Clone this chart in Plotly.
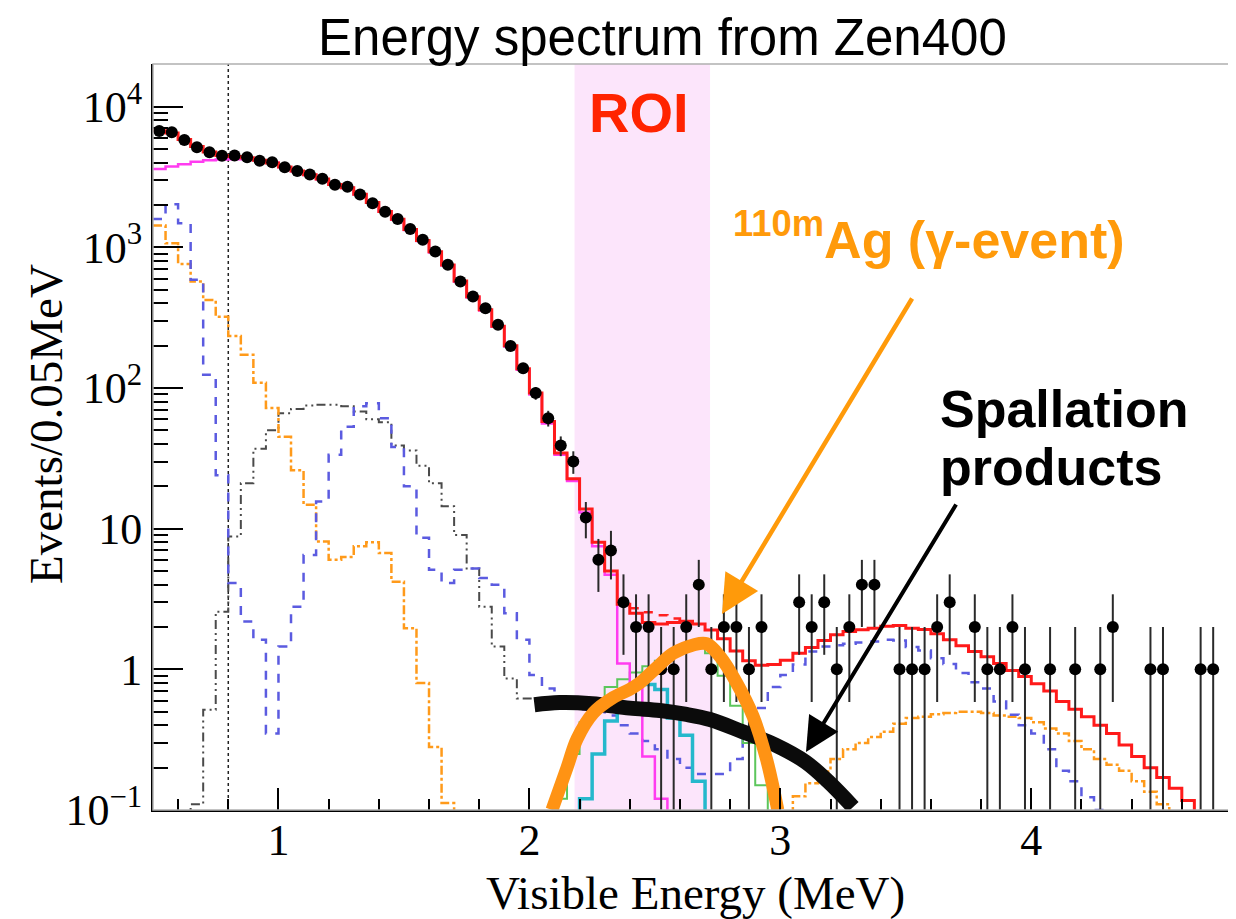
import numpy as np
import plotly.graph_objects as go

BIN = 0.05
# ---------------- data ----------------
data_start = 0.5           # left edge of first data bin
data_counts = [6710, 6580, 5790, 5140, 4740, 4470, 4490, 4370, 4130, 4030,
               3710, 3490, 3290, 3070, 2780, 2690, 2370, 2060, 1790, 1590,
               1350, 1130, 933, 751, 571, 447, 369, 281, 199, 138,
               92, 61, 39, 30, 12, 6, 7, 3, 2, 2,
               1, 1, 2, 4, 1, 2, 2, 1, 2, 0,
               0, 3, 2, 3, 1, 2, 4, 4, 0, 1,
               1, 1, 2, 3, 0, 2, 1, 1, 2, 1,
               0, 1, 0, 1, 0, 1, 2, 0, 0, 1,
               1, 0, 0, 1, 1, 0]

total_start = 0.5
total_fit = [6750, 6500, 5850, 5200, 4750, 4500, 4420, 4330, 4150, 3980,
             3720, 3480, 3280, 3060, 2800, 2650, 2380, 2080, 1800, 1580,
             1340, 1120, 930, 750, 575, 445, 360, 275, 200, 137,
             92, 57.7, 34.5, 22.6, 13.8, 8.0, 5.0, 2.9, 2.5, 2.15,
             2.1, 2.15, 2.2, 2.1, 1.9, 1.65, 1.35, 1.15, 1.07, 1.08,
             1.16, 1.3, 1.43, 1.6, 1.76, 1.86, 1.91, 1.96, 2.02, 2.05,
             1.96, 1.92, 1.79, 1.62, 1.47, 1.34, 1.23, 1.10, 0.98, 0.89,
             0.79, 0.70, 0.59, 0.52, 0.46, 0.40, 0.35, 0.29, 0.24, 0.20,
             0.17, 0.143, 0.117, 0.09, 0.07, 0.05]

alt_total_start = 2.40
alt_total = [2.72, 2.55, 2.42, 2.3, 2.2]

xe2nu_start = 0.5
xe2nu = [3600, 3750, 3900, 4050, 4150, 4200, 4230, 4230, 4150, 4000,
         3700, 3470, 3270, 3050, 2790, 2640, 2370, 2070, 1790, 1570,
         1330, 1110, 920, 742, 568, 440, 355, 272, 197, 135,
         90, 56, 33.5, 21.8, 13.0, 7.5, 4.7, 1.1, 0.8, 0.24,
         0.12, 0]

blue_start = 0.5
blue_bkg = [1590, 2020, 1480, 587, 124, 24, 4.1, 2.19, 1.62, 0.35,
            1.45, 2.79, 6.5, 15.6, 33.5, 53, 74, 78, 61, 38,
            20, 8.6, 5.1, 4.1, 5.1, 5.2, 4.45, 4.0, 2.5, 1.62,
            0.91, 0.73, 0.63, 0.58, 0.52, 0.50, 0.47, 0.40, 0.35, 0.31,
            0.27, 0.23, 0.20, 0.18, 0.18, 0.18, 0.23, 0.32, 0.53, 0.75,
            0.91, 1.08, 1.34, 1.45, 1.48, 1.52, 1.55, 1.58, 1.62, 1.60,
            1.44, 1.36, 1.2, 1.09, 0.94, 0.81, 0.73, 0.59, 0.475, 0.40,
            0.35, 0.27, 0.19, 0.16, 0.123, 0.1, 0]

orange_low_start = 0.5
orange_low = [1430, 1070, 762, 571, 422, 321, 234, 172, 109, 72,
              45, 26, 14.8, 8.1, 6.0, 6.3, 7.5, 8.0, 6.7, 4.2,
              1.96, 0.80, 0.28, 0.112, 0]

orange_high_start = 3.00
orange_high = [0, 0.125, 0.155, 0.188, 0.23, 0.27, 0.30, 0.33, 0.36, 0.41,
               0.45, 0.46, 0.48, 0.49, 0.5, 0.5, 0.49, 0.47, 0.46, 0.45,
               0.42, 0.38, 0.35, 0.31, 0.27, 0.23, 0.21, 0.19, 0.16, 0.135,
               0.11, 0]

gray_start = 0.60
gray_bkg = [0, 0.11, 0.515, 2.57, 8.8, 21, 37, 50, 66, 71,
            75, 76, 76, 74, 68, 60, 57, 39, 36, 28,
            21, 14.4, 9.0, 5.2, 2.79, 1.45, 0.86, 0.62, 0.62]

cyan_start = 2.15
cyan_sig = [0, 0.12, 0.25, 0.43, 0.70, 0.78, 0.78, 0.72, 0.45, 0.34, 0.16, 0]

green_start = 2.05
green_ag = [0, 0.12, 0.25, 0.42, 0.6, 0.75, 0.85, 0.95, 1.05, 1.15,
            1.3, 1.45, 1.5, 1.3, 0.9, 0.55, 0.3, 0.15, 0]

# hand-drawn highlight curves
ag_x = [2.09, 2.15, 2.19, 2.255, 2.334, 2.40, 2.44, 2.507, 2.573, 2.653, 2.706, 2.76, 2.826, 2.892, 2.945, 2.99]
ag_y = [0.10, 0.20, 0.32, 0.49, 0.63, 0.72, 0.80, 1.03, 1.30, 1.49, 1.52, 1.23, 0.80, 0.46, 0.23, 0.10]
sp_x = [2.02, 2.12, 2.25, 2.40, 2.52, 2.62, 2.72, 2.85, 2.98, 3.10, 3.19, 3.29]
sp_y = [0.56, 0.58, 0.57, 0.53, 0.51, 0.48, 0.44, 0.36, 0.29, 0.22, 0.16, 0.105]

roi = [2.18, 2.72]
threshold = 0.8

y_tickvals = [0.1, 1, 10, 100, 1000, 10000]
y_ticktext = ["10<sup>\u22121</sup>", "1", "10", "10<sup>2</sup>", "10<sup>3</sup>", "10<sup>4</sup>"]
x_tickvals = [1, 2, 3, 4]

FLOOR = 1e-3

# ---------------- figure ----------------
fig = go.Figure()


def step(start, vals, color, width, dash="solid"):
    v = [x if x > 0 else FLOOR for x in vals]
    xs = start + BIN * np.arange(len(v) + 1)
    ys = v + [v[-1]]
    return go.Scatter(x=xs, y=ys, mode="lines",
                      line=dict(shape="hv", color=color, width=width, dash=dash),
                      hoverinfo="skip", showlegend=False)


GRAYDASH = "9px,4px,2px,4px,2px,4px"
fig.add_trace(step(gray_start, gray_bkg, "#4a4a4a", 2, GRAYDASH))
fig.add_trace(step(orange_low_start, orange_low, "#FF9A1A", 2.5, "dashdot"))
fig.add_trace(step(orange_high_start, orange_high, "#FF9A1A", 2.5, "dashdot"))
fig.add_trace(step(blue_start, blue_bkg, "#5B5BE0", 2.5, "dash"))
fig.add_trace(step(green_start, green_ag, "#5CC65C", 2))
fig.add_trace(step(cyan_start, cyan_sig, "#25B8CC", 3.5))
fig.add_trace(step(xe2nu_start, xe2nu, "#FF3CF0", 2.5))
fig.add_trace(step(alt_total_start, alt_total, "#FF2020", 2.5, "dash"))
fig.add_trace(step(total_start, total_fit, "#FF1A1A", 3))

# data points
counts = np.array(data_counts, dtype=float)
centers = data_start + BIN / 2 + BIN * np.arange(len(counts))
mask = counts > 0
n = counts[mask]
err = np.sqrt(n)
err_minus = np.where(err >= n, n * 0.9999, err)
fig.add_trace(go.Scatter(
    x=centers[mask], y=n, mode="markers",
    marker=dict(color="black", size=12, symbol="circle"),
    error_y=dict(type="data", array=err, arrayminus=err_minus,
                 color="#2a2a2a", thickness=2, width=0),
    hoverinfo="skip", showlegend=False))

# hand-drawn highlights
fig.add_trace(go.Scatter(x=sp_x, y=sp_y, mode="lines",
                         line=dict(color="#0b0b0b", width=15, shape="spline"),
                         hoverinfo="skip", showlegend=False))
fig.add_trace(go.Scatter(x=ag_x, y=ag_y, mode="lines",
                         line=dict(color="#FF9314", width=13, shape="spline"),
                         hoverinfo="skip", showlegend=False))

# ---------------- layout ----------------
# page is shown with an 8px body margin, so the figure is 8px smaller
OFF = 8
W, H = 1236 - OFF, 919 - OFF
L, R, T, B = 145, 4, 56, 109
PW, PH = W - L - R, H - T - B


def px(xs):   # screenshot x -> paper
    return (xs - OFF - L) / PW


def py(ys):   # screenshot y -> paper
    return (OFF + H - B - ys) / PH


SERIF = "Liberation Serif"
SANS = "Liberation Sans"

fig.update_layout(
    width=W, height=H,
    margin=dict(l=L, r=R, t=T, b=B, autoexpand=False),
    paper_bgcolor="white", plot_bgcolor="white",
    showlegend=False,
    xaxis=dict(range=[0.5, 4.8], showgrid=False, zeroline=False,
               showline=True, linecolor="black", linewidth=2,
               ticks="inside", tickvals=x_tickvals, ticklen=22, tickwidth=1.5,
               tickcolor="black", ticklabelstandoff=-10,
               tickfont=dict(family=SERIF, size=44, color="black"),
               minor=dict(ticks="inside", dtick=0.2, tick0=0, ticklen=11,
                          tickwidth=1.5, tickcolor="black", showgrid=False)),
    yaxis=dict(type="log", range=[-1, 4.303], showgrid=False, zeroline=False,
               showline=True, linecolor="black", linewidth=2,
               ticks="inside", tickmode="array", tickvals=y_tickvals,
               ticktext=y_ticktext, ticklen=30, tickwidth=1.5, tickcolor="black",
               tickfont=dict(family=SERIF, size=44, color="black"),
               minor=dict(ticks="inside", ticklen=15, tickwidth=1.5, tickcolor="black",
                          tickmode="array",
                          tickvals=[m * 10.0 ** e for e in range(-1, 5) for m in range(2, 10)],
                          showgrid=False)),
)

fig.add_shape(type="rect", xref="x", yref="paper", x0=roi[0], x1=roi[1], y0=0, y1=1,
              fillcolor="#FCE5FB", line=dict(width=0), layer="below")
fig.add_shape(type="line", xref="x", yref="paper", x0=threshold, x1=threshold, y0=0, y1=1,
              line=dict(color="#222222", width=1.5, dash="dot"), layer="below")
fig.add_shape(type="rect", xref="paper", yref="paper", x0=0, x1=1, y0=0, y1=1,
              line=dict(color="#b0b0b0", width=1.5), layer="above")

ann = [
    dict(text="Energy spectrum from Zen400", x=px(662), y=py(38),
         font=dict(family=SANS, size=51, color="black")),
    dict(text="Visible Energy (MeV)", x=px(695), y=py(893),
         font=dict(family=SERIF, size=47, color="black")),
    dict(text="Events/0.05MeV", x=px(46), y=py(424), textangle=-90,
         font=dict(family=SERIF, size=47, color="black")),
    dict(text="<b>ROI</b>", x=px(639), y=py(112),
         font=dict(family=SANS, size=56, color="#FF2400")),
    dict(text="<b><sup>110m</sup>Ag (\u03b3-event)</b>", x=px(731), y=py(236), xanchor="left",
         font=dict(family=SANS, size=52, color="#FF9A0A")),
    dict(text="<b>Spallation</b>", x=px(938), y=py(409), xanchor="left",
         font=dict(family=SANS, size=52, color="black")),
    dict(text="<b>products</b>", x=px(938), y=py(467), xanchor="left",
         font=dict(family=SANS, size=52, color="black")),
]
for a in ann:
    a.setdefault("xanchor", "center")
    a.setdefault("yanchor", "middle")
    fig.add_annotation(xref="paper", yref="paper", showarrow=False, **a)

# arrows
fig.add_annotation(xref="paper", yref="paper", x=px(722), y=py(614), ax=191, ay=-317,
                   text="", showarrow=True, arrowhead=2, arrowsize=1.7, arrowwidth=4.5,
                   arrowcolor="#FF9A0A")
fig.add_annotation(xref="paper", yref="paper", x=px(806), y=py(752), ax=151, ay=-249,
                   text="", showarrow=True, arrowhead=2, arrowsize=1.7, arrowwidth=4,
                   arrowcolor="black")

fig.write_html("out.html")
